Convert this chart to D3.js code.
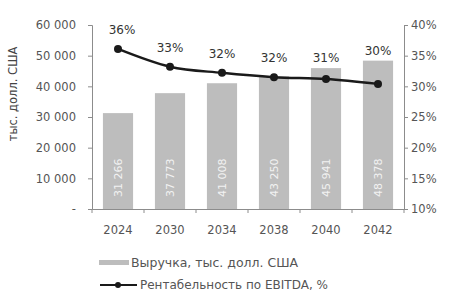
<!DOCTYPE html>
<html>
<head>
<meta charset="utf-8">
<script src="https://cdn.jsdelivr.net/npm/d3@7"></script>
<style>
  body { margin: 0; background: #fff; }
  text { font-family: "DejaVu Sans", Verdana, sans-serif; }
</style>
</head>
<body>
<div id="chart"></div>
<script>
const years = ['2024', '2030', '2034', '2038', '2040', '2042'];
const revenue = [31266, 37773, 41008, 43250, 45941, 48378];
const revenueLabels = ['31 266', '37 773', '41 008', '43 250', '45 941', '48 378'];
const margin = [36.1, 33.2, 32.2, 31.5, 31.2, 30.4];
const marginLabels = ['36%', '33%', '32%', '32%', '31%', '30%'];
const leftTicks = [0, 10000, 20000, 30000, 40000, 50000, 60000];
const rightTicks = [10, 15, 20, 25, 30, 35, 40];
const legendNames = ['Выручка, тыс. долл. США', 'Рентабельность по EBITDA, %'];

const W = 449, H = 294;
const plot = { left: 92, right: 404, top: 25, bottom: 209 };

const svg = d3.select('#chart').append('svg')
    .attr('width', W)
    .attr('height', H);

const x = d3.scaleBand().domain(years)
    .range([plot.left, plot.right])
    .paddingInner(0.42)
    .paddingOuter(0.21);
const xEdge = d3.scaleBand().domain(years).range([plot.left, plot.right]);
const yLeft = d3.scaleLinear().domain([0, 60000]).range([plot.bottom, plot.top]);
const yRight = d3.scaleLinear().domain([10, 40]).range([plot.bottom, plot.top]);

const axisColor = '#8c8c8c';
const labelColor = '#555';

// left axis
const fmt = v => v === 0 ? '-' : d3.format(',')(v).replace(',', ' ');
const gl = svg.append('g')
    .attr('transform', 'translate(' + plot.left + ',0)')
    .call(d3.axisLeft(yLeft).tickValues(leftTicks).tickFormat(fmt).tickSize(4).tickPadding(12));
gl.selectAll('path, line').attr('stroke', axisColor);
gl.selectAll('text').attr('fill', labelColor).attr('font-size', 11.5);

// right axis
const gr = svg.append('g')
    .attr('transform', 'translate(' + plot.right + ',0)')
    .call(d3.axisRight(yRight).tickValues(rightTicks).tickFormat(d => d + '%').tickSize(4).tickPadding(3));
gr.selectAll('path, line').attr('stroke', axisColor);
gr.selectAll('text').attr('fill', labelColor).attr('font-size', 11.5);

// bars
svg.append('g').selectAll('rect')
    .data(revenue)
    .join('rect')
    .attr('x', (d, i) => x(years[i]))
    .attr('y', d => yLeft(d))
    .attr('width', x.bandwidth())
    .attr('height', d => yLeft(0) - yLeft(d))
    .attr('fill', '#bdbdbd');

// values inside bars
svg.append('g').selectAll('text')
    .data(revenueLabels)
    .join('text')
    .attr('transform', (d, i) => 'translate(' + (x(years[i]) + x.bandwidth() / 2 + 4) + ',' + (plot.bottom - 12) + ') rotate(-90)')
    .attr('fill', '#f2f2f2')
    .attr('font-size', 11)
    .text(d => d);

// x axis
const gx = svg.append('g')
    .attr('transform', 'translate(0,' + plot.bottom + ')')
    .call(d3.axisBottom(x).tickSize(0).tickPadding(17));
gx.select('.domain').attr('stroke', axisColor);
gx.selectAll('text').attr('fill', labelColor).attr('font-size', 11.5);
gx.selectAll('.edge')
    .data(years.map(d => xEdge(d)).concat([plot.right]))
    .join('line')
    .attr('class', 'edge')
    .attr('x1', d => d).attr('x2', d => d)
    .attr('y1', 0).attr('y2', 4)
    .attr('stroke', axisColor);

// EBITDA margin line
const cx = (d, i) => x(years[i]) + x.bandwidth() / 2;
const line = d3.line()
    .x(cx)
    .y(d => yRight(d))
    .curve(d3.curveMonotoneX);

svg.append('path')
    .datum(margin)
    .attr('d', line)
    .attr('fill', 'none')
    .attr('stroke', '#1a1a1a')
    .attr('stroke-width', 2.5);

svg.append('g').selectAll('circle')
    .data(margin)
    .join('circle')
    .attr('cx', cx)
    .attr('cy', d => yRight(d))
    .attr('r', 4)
    .attr('fill', '#1a1a1a');

svg.append('g').selectAll('text')
    .data(marginLabels)
    .join('text')
    .attr('x', (d, i) => cx(d, i) + (i === 0 ? 4 : 0))
    .attr('y', (d, i) => Math.min(yRight(margin[i]) - 19, yLeft(revenue[i]) - 10) + 4)
    .attr('text-anchor', 'middle')
    .attr('fill', '#333')
    .attr('font-size', 12)
    .text(d => d);

// y axis title
svg.append('text')
    .attr('transform', 'translate(17,94) rotate(-90)')
    .attr('text-anchor', 'middle')
    .attr('fill', '#444')
    .attr('font-size', 11.5)
    .text('тыс. долл. США');

// legend
const lg = svg.append('g');
lg.append('rect')
    .attr('x', 99).attr('y', 260)
    .attr('width', 30).attr('height', 5)
    .attr('fill', '#bdbdbd');
lg.append('text')
    .attr('x', 131).attr('y', 267)
    .attr('fill', labelColor)
    .attr('font-size', 12.5)
    .text(legendNames[0]);
lg.append('line')
    .attr('x1', 100).attr('x2', 137)
    .attr('y1', 285).attr('y2', 285)
    .attr('stroke', '#1a1a1a')
    .attr('stroke-width', 2);
lg.append('circle')
    .attr('cx', 118).attr('cy', 285).attr('r', 3)
    .attr('fill', '#1a1a1a');
lg.append('text')
    .attr('x', 140).attr('y', 289)
    .attr('fill', labelColor)
    .attr('font-size', 12)
    .text(legendNames[1]);
</script>
</body>
</html>
